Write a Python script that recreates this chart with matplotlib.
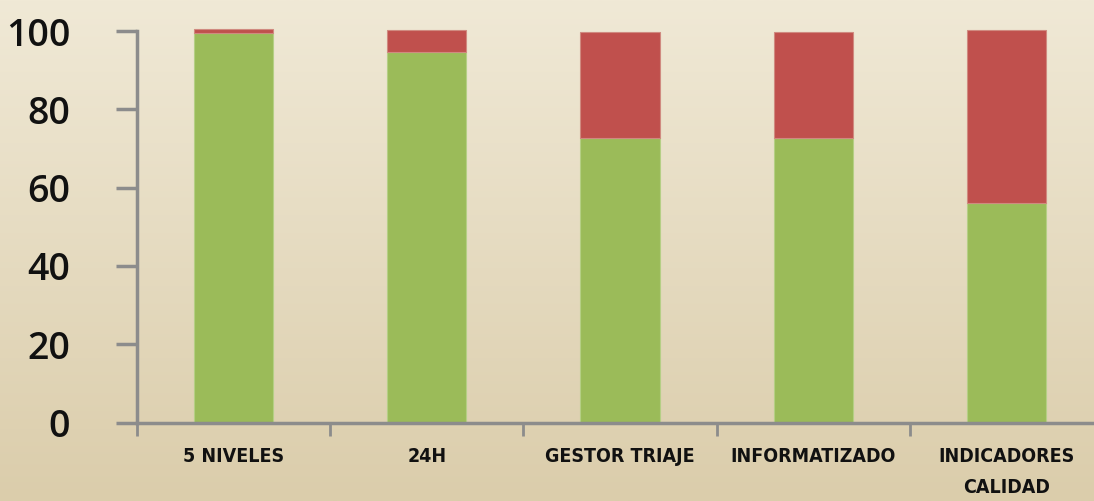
import numpy as np
import matplotlib.pyplot as plt
from matplotlib.colors import LinearSegmentedColormap

categories = ["5 NIVELES", "24H", "GESTOR TRIAJE", "INFORMATIZADO", "INDICADORES\nCALIDAD"]
si = [99.6, 94.6, 72.7, 72.7, 56.1]
no = [0.9, 5.6, 27.0, 27.0, 44.2]
yticks = [0, 20, 40, 60, 80, 100]

fig = plt.figure(figsize=(10.94, 5.01), dpi=100)

# background gradient (light top, darker bottom)
bg = fig.add_axes([0, 0, 1, 1], zorder=0)
cmap = LinearSegmentedColormap.from_list("bg", ["#f0e9d6", "#dbcdab"])
bg.imshow(np.linspace(0, 1, 256).reshape(-1, 1), aspect="auto", cmap=cmap,
          extent=[0, 1, 0, 1])
bg.set_axis_off()

ax = fig.add_axes([137 / 1094, 78.5 / 501, 966 / 1094, 391.5 / 501], zorder=1)
ax.set_facecolor("none")

x = np.arange(len(categories))
ax.bar(x, si, width=0.41, color="#9bbb59", edgecolor="#b5cf85", linewidth=0.8, clip_on=False)
ax.bar(x, no, width=0.41, bottom=si, color="#c0504d", edgecolor="#d08a80", linewidth=0.8, clip_on=False)

ax.set_xlim(-0.5, len(categories) - 0.5)
ax.set_ylim(0, 100)
ax.set_yticks(yticks)
ax.set_yticklabels([str(v) for v in yticks], fontsize=27, family="Open Sans",
                   fontweight="semibold", color="#111111")

ax.set_xticks(x)
ax.set_xticklabels(categories, fontsize=14, fontweight="bold", family="DejaVu Sans",
                   stretch="condensed", linespacing=1.75, color="#111111")
ax.set_xticks(np.arange(len(categories) + 1) - 0.5, minor=True)
ax.tick_params(axis="x", which="major", length=0, pad=18)
ax.tick_params(axis="x", which="minor", length=9, width=2, color="#8c8c8c", direction="out")
ax.tick_params(axis="y", length=15, width=2.5, color="#8c8c8c", pad=33)

for side in ["top", "right"]:
    ax.spines[side].set_visible(False)
for side in ["left", "bottom"]:
    ax.spines[side].set_color("#8c8c8c")
    ax.spines[side].set_linewidth(2.5)

fig.savefig("out.png", dpi=100)
